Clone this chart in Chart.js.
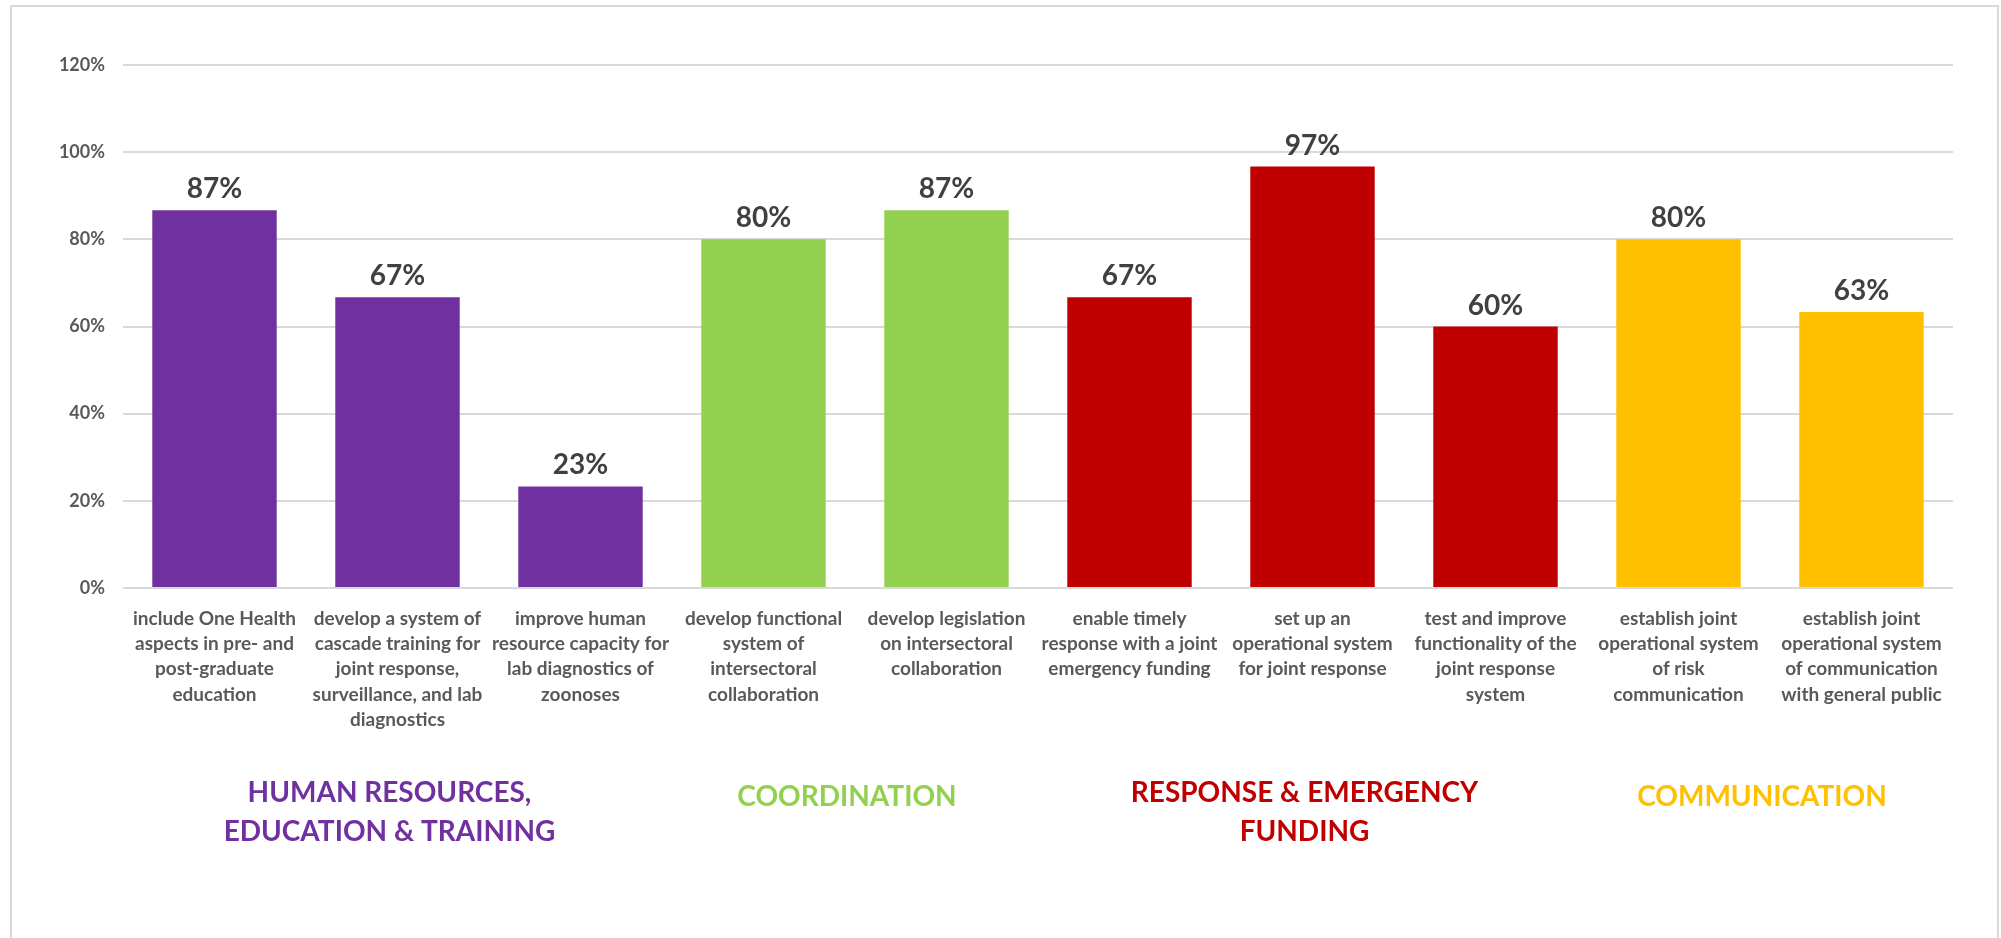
<!DOCTYPE html>
<html>
<head>
<meta charset="utf-8">
<script src="https://cdn.jsdelivr.net/npm/chart.js@4/dist/chart.umd.min.js"></script>
<style>
    html, body { margin: 0; padding: 0; background: #fff; }
    #wrap { position: relative; width: 2001px; height: 938px; overflow: hidden; }
    #frame { position: absolute; left: 10px; top: 5px; width: 1985px; height: 1000px; border: 2px solid #d9d9d9; }
    #chart { position: absolute; left: 0; top: 0; }
</style>
</head>
<body>
<div id="wrap">
    <div id="frame"></div>
    <canvas id="chart" width="2001" height="938"></canvas>
</div>
<script>
const categories = [
    ['include One Health', 'aspects in pre- and', 'post-graduate', 'education'],
    ['develop a system of', 'cascade training for', 'joint response,', 'surveillance, and lab', 'diagnostics'],
    ['improve human', 'resource capacity for', 'lab diagnostics of', 'zoonoses'],
    ['develop functional', 'system of', 'intersectoral', 'collaboration'],
    ['develop legislation', 'on intersectoral', 'collaboration'],
    ['enable timely', 'response with a joint', 'emergency funding'],
    ['set up an', 'operational system', 'for joint response'],
    ['test and improve', 'functionality of the', 'joint response', 'system'],
    ['establish joint', 'operational system', 'of risk', 'communication'],
    ['establish joint', 'operational system', 'of communication', 'with general public']
];
const values = [86.7, 66.7, 23.3, 80, 86.7, 66.7, 96.7, 60, 80, 63.3];
const valueLabels = ['87%', '67%', '23%', '80%', '87%', '67%', '97%', '60%', '80%', '63%'];

// which group each bar belongs to
const groupOf = [0, 0, 0, 1, 1, 2, 2, 2, 3, 3];
const groupNames = [
    ['HUMAN RESOURCES,', 'EDUCATION & TRAINING'],
    ['COORDINATION'],
    ['RESPONSE & EMERGENCY', 'FUNDING'],
    ['COMMUNICATION']
];
const groupColors = ['#7030A0', '#92D050', '#C00000', '#FFC000'];

const yTicks = [0, 20, 40, 60, 80, 100, 120];

const FONT = 'Lato, "Open Sans", sans-serif';

// value labels above bars + group names under the axis labels
const labelPlugin = {
    id: 'labels',
    afterDatasetsDraw(chart) {
        const ctx = chart.ctx;
        const meta = chart.getDatasetMeta(0);
        ctx.save();
        ctx.font = 'bold 28px ' + FONT;
        ctx.fillStyle = '#404040';
        ctx.textAlign = 'center';
        ctx.textBaseline = 'bottom';
        meta.data.forEach((bar, i) => {
            ctx.fillText(valueLabels[i], bar.x, bar.y - 7);
        });
        ctx.restore();
    },
    afterDraw(chart) {
        const ctx = chart.ctx;
        const x = chart.scales.x;
        ctx.save();
        ctx.font = 'bold 28px ' + FONT;
        ctx.textAlign = 'center';
        ctx.textBaseline = 'middle';
        groupNames.forEach((lines, g) => {
            const idx = groupOf.map((v, i) => v === g ? i : -1).filter(i => i >= 0);
            const cx = (x.getPixelForValue(idx[0]) + x.getPixelForValue(idx[idx.length - 1])) / 2 - 8;
            const top = lines.length > 1 ? 793 : 797;
            ctx.fillStyle = groupColors[g];
            lines.forEach((t, k) => ctx.fillText(t, cx, top + k * 39));
        });
        ctx.restore();
    }
};

new Chart(document.getElementById('chart'), {
    type: 'bar',
    data: {
        labels: categories,
        datasets: [{
            data: values,
            backgroundColor: groupOf.map(g => groupColors[g]),
            categoryPercentage: 1,
            barPercentage: 0.68
        }]
    },
    options: {
        responsive: false,
        animation: false,
        layout: { padding: { left: 0, right: 48, top: 65, bottom: 0 } },
        plugins: {
            legend: { display: false },
            tooltip: { enabled: false }
        },
        scales: {
            x: {
                grid: { display: false },
                border: { display: false },
                ticks: {
                    autoSkip: false,
                    maxRotation: 0,
                    padding: 10,
                    color: '#595959',
                    font: { family: FONT, size: 19, weight: 'bold', lineHeight: 1.33 }
                },
                afterFit(scale) { scale.height = 350; }
            },
            y: {
                min: 0,
                max: 120,
                afterBuildTicks(scale) { scale.ticks = yTicks.map(v => ({ value: v })); },
                grid: { color: '#d9d9d9', lineWidth: 2, drawTicks: false },
                border: { display: false },
                ticks: {
                    padding: 18,
                    color: '#595959',
                    font: { family: FONT, size: 18, weight: 'bold' },
                    callback: v => v + '%'
                },
                afterFit(scale) { scale.width = 123; }
            }
        }
    },
    plugins: [labelPlugin]
});
</script>
</body>
</html>
